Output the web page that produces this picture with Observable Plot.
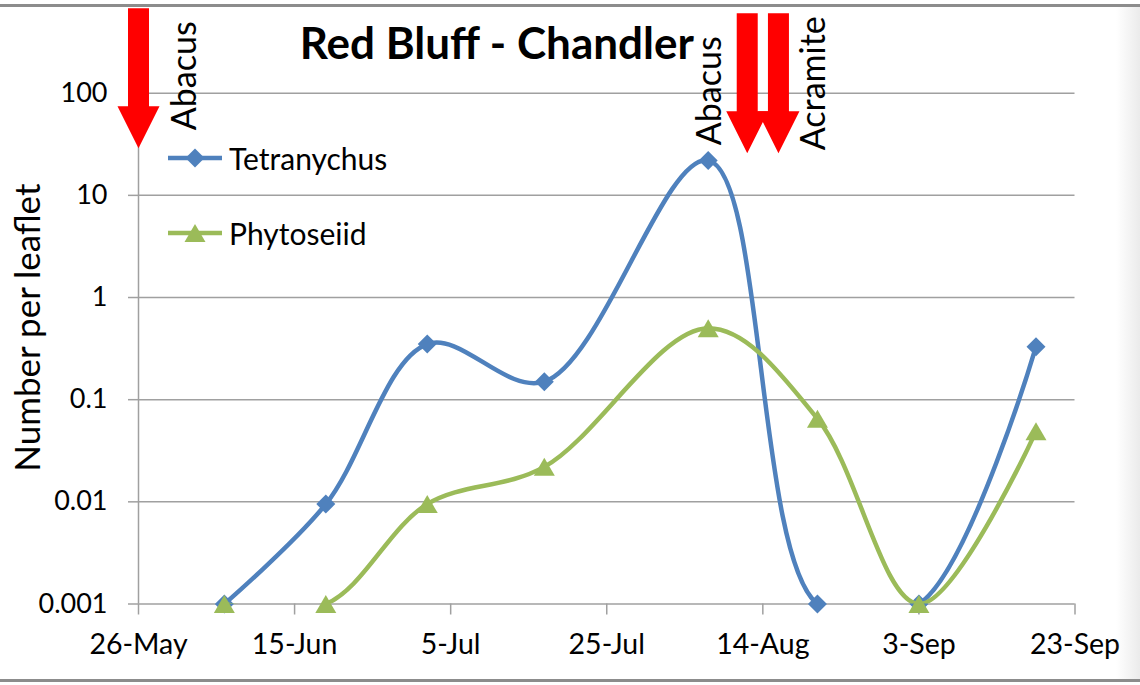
<!DOCTYPE html>
<html><head><meta charset="utf-8">
<script src="https://cdn.jsdelivr.net/npm/d3@7"></script>
<script src="https://cdn.jsdelivr.net/npm/@observablehq/plot@0.6"></script>
<style>
html,body{margin:0;padding:0;background:#fff;}
#wrap{position:relative;width:1140px;height:685px;overflow:hidden;font-family:Lato,sans-serif;background:#fff;}
.bt{position:absolute;left:0;top:4px;width:1140px;height:3px;background:#8c8c8c;}
.bb{position:absolute;left:0;top:679px;width:1140px;height:3px;background:#8c8c8c;}
.sh{position:absolute;left:1116px;top:7px;width:24px;height:672px;background:linear-gradient(to right,rgba(255,255,255,0),#ebebeb);}
.item{position:absolute;height:40px;display:flex;align-items:center;font-size:30px;color:#000;}
.item svg{margin-right:5px;}
#chart svg{display:block;}
</style></head><body>
<div id="wrap"><div id="chart"></div><div class="bt"></div><div class="bb"></div><div class="sh"></div></div>
<script>
// ---- data ----
const sampleDates = ["2013-06-06","2013-06-19","2013-07-02","2013-07-17","2013-08-07","2013-08-21","2013-09-03","2013-09-18"];
const tetranychus = [0.001, 0.0095, 0.35, 0.15, 22, 0.001, 0.001, 0.33];
const phytoseiid  = [0.001, 0.001, 0.0095, 0.022, 0.5, 0.065, 0.001, 0.049];
const seriesNames = ["Tetranychus", "Phytoseiid"];
const seriesColors = ["#4F81BD", "#9BBB59"];
const xTickDates = ["2013-05-26","2013-06-15","2013-07-05","2013-07-25","2013-08-14","2013-09-03","2013-09-23"];
const yTicks = [0.001, 0.01, 0.1, 1, 10, 100];
const sprayDates = ["2013-05-26","2013-08-12","2013-08-16"];
const sprayProducts = ["Abacus","Abacus","Acramite"];
const chartTitle = "Red Bluff - Chandler";
const yLabel = "Number per leaflet";

// ---- tables ----
const parse = d3.utcParse("%Y-%m-%d");
const tetData = sampleDates.map((d,i)=>({date: parse(d), value: tetranychus[i], series: seriesNames[0]}));
const phyData = sampleDates.map((d,i)=>({date: parse(d), value: phytoseiid[i], series: seriesNames[1]}));
const sprays = sprayDates.map((d,i)=>({date: parse(d), product: sprayProducts[i]}));
const xTicks = xTickDates.map(parse);

// ---- symbols ----
const diamondSym = {draw(c){const r=9.5;c.moveTo(0,-r);c.lineTo(r,0);c.lineTo(0,r);c.lineTo(-r,0);c.closePath();}};
const triangleSym = {draw(c){const w=10.5,h=9;c.moveTo(0,-h);c.lineTo(w,h);c.lineTo(-w,h);c.closePath();}};
const blockArrow = {draw(c,l){const sw=10.5,hw=21,hl=42;
  c.moveTo(-sw,0);c.lineTo(-sw,-(l-hl));c.lineTo(-hw,-(l-hl));c.lineTo(0,-l);
  c.lineTo(hw,-(l-hl));c.lineTo(sw,-(l-hl));c.lineTo(sw,0);c.closePath();}};

const grid = "#A0A0A0";
const chart = Plot.plot({
  width: 1140, height: 685,
  marginLeft: 138, marginRight: 65.5, marginTop: 92.7, marginBottom: 81.5,
  style: {fontFamily: "Lato, sans-serif", fontSize: "26px", background: "transparent", overflow: "visible", color: "#000"},
  x: {type: "utc", domain: [xTicks[0], xTicks[xTicks.length-1]]},
  y: {type: "log", domain: [yTicks[0], yTicks[yTicks.length-1]]},
  marks: [
    Plot.ruleY(yTicks, {stroke: grid, strokeWidth: 1.5}),
    Plot.ruleX([xTicks[0]], {stroke: grid, strokeWidth: 1.5}),
    Plot.axisY(yTicks, {tickSize: 10, tickPadding: 21, stroke: grid, strokeWidth: 1.5, fill: "#000", tickFormat: d => String(d), label: null, fontSize: 27}),
    Plot.axisX(xTicks, {tickSize: 11, tickPadding: 19, stroke: grid, strokeWidth: 1.5, fill: "#000", tickFormat: d3.utcFormat("%-d-%b"), label: null, fontSize: 28.5}),
    Plot.text([yLabel], {text: d => d, frameAnchor: "left", textAnchor: "middle", lineAnchor: "middle", rotate: -90, dx: -110, dy: -21, fontSize: 35, fill: "#000"}),
    Plot.text([chartTitle], {text: d => d, frameAnchor: "top", lineAnchor: "bottom", dx: -110, dy: -34, fontSize: 44, fontWeight: "bold", fill: "#000"}),
    Plot.line(tetData, {x: "date", y: "value", stroke: seriesColors[0], strokeWidth: 4.5, curve: "catmull-rom", clip: true}),
    Plot.dot(tetData, {x: "date", y: "value", symbol: diamondSym, fill: seriesColors[0], stroke: "none"}),
    Plot.line(phyData, {x: "date", y: "value", stroke: seriesColors[1], strokeWidth: 4.5, curve: "catmull-rom", clip: true}),
    Plot.dot(phyData, {x: "date", y: "value", symbol: triangleSym, fill: seriesColors[1], stroke: "none"}),
    Plot.vector(sprays.slice(0,1), {x: "date", frameAnchor: "top", anchor: "start", rotate: 180, length: 140, dy: -85, shape: blockArrow, fill: "#FF0000", stroke: "none"}),
    Plot.vector(sprays.slice(1), {x: "date", frameAnchor: "top", anchor: "start", rotate: 180, length: 140, dy: -80, shape: blockArrow, fill: "#FF0000", stroke: "none"}),
    Plot.text(sprays.slice(0,1), {x: "date", text: "product", frameAnchor: "top", rotate: -90, textAnchor: "start", lineAnchor: "middle", dx: 47, dy: 37, fontSize: 34, fill: "#000"}),
    Plot.text(sprays.slice(1,2), {x: "date", text: "product", frameAnchor: "top", rotate: -90, textAnchor: "start", lineAnchor: "middle", dx: -37, dy: 52, fontSize: 34, fill: "#000"}),
    Plot.text(sprays.slice(2,3), {x: "date", text: "product", frameAnchor: "top", rotate: -90, textAnchor: "start", lineAnchor: "middle", dx: 36, dy: 57, fontSize: 34, fill: "#000"})
  ]
});
document.getElementById("chart").appendChild(chart);

// ---- legend (overlay) ----
const legendTops = [138, 213];
const wrap = d3.select("#wrap");
seriesNames.forEach((name, i) => {
  const it = wrap.append("div").attr("class", "item").style("left", "168px").style("top", legendTops[i] + "px");
  const s = it.append("svg").attr("width", 56).attr("height", 40);
  s.append("line").attr("x1", 0).attr("x2", 54).attr("y1", 20).attr("y2", 20).attr("stroke", seriesColors[i]).attr("stroke-width", 4.5);
  const p = d3.path(); (i === 0 ? diamondSym : triangleSym).draw(p);
  s.append("path").attr("d", p.toString()).attr("transform", "translate(27,20)").attr("fill", seriesColors[i]);
  it.append("span").text(name);
});
</script>
</body></html>
